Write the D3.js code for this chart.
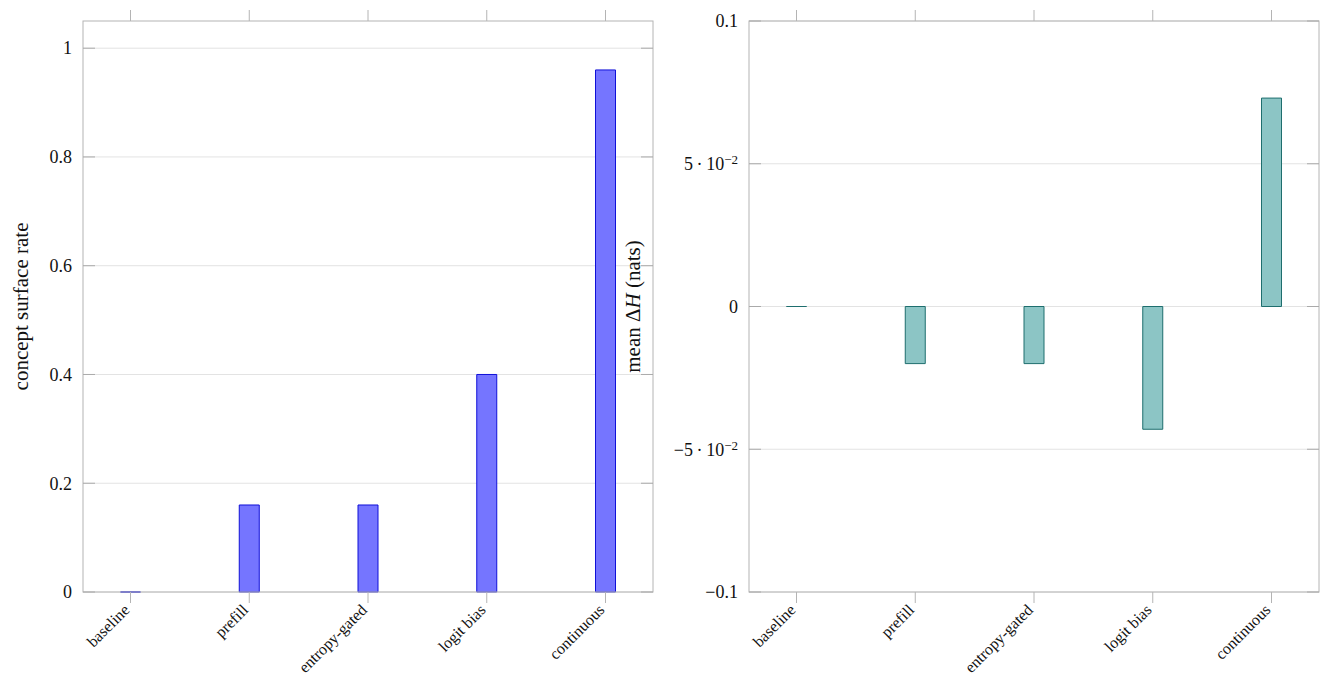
<!DOCTYPE html>
<html>
<head>
<meta charset="utf-8">
<script src="https://cdn.jsdelivr.net/npm/d3@7"></script>
<style>
  body { margin: 0; background: #fff; }
  text { font-family: "Liberation Serif", "DejaVu Serif", serif; fill: #111; }
</style>
</head>
<body>
<svg id="chart" width="1329" height="683"></svg>
<script>
// data
const methods = ["baseline", "prefill", "entropy-gated", "logit bias", "continuous"];
const surfaceRate = [0, 0.16, 0.16, 0.40, 0.96];
const meanDeltaH = [0, -0.02, -0.02, -0.043, 0.073];

const rateTicks = [0, 0.2, 0.4, 0.6, 0.8, 1];
const rateTickLabels = ["0", "0.2", "0.4", "0.6", "0.8", "1"];
const deltaTicks = [-0.1, -0.05, 0, 0.05, 0.1];
const deltaTickLabels = [["\u22120.1"], ["\u22125\u2009\u00b7\u200910", "\u22122"], ["0"], ["5\u2009\u00b7\u200910", "\u22122"], ["0.1"]];

const svg = d3.select("#chart");

function drawPanel(opts) {
    let left = opts.left, right = opts.right, top = 21, bottom = 592;

    let x = d3.scalePoint().domain(methods).range([left, right]).padding(0.4);
    let y = d3.scaleLinear().domain(opts.domain).range([bottom, top]);

    let g = svg.append("g");

    // grid
    g.selectAll(".grid").data(opts.ticks).join("line")
        .attr("x1", left).attr("x2", right)
        .attr("y1", d => y(d)).attr("y2", d => y(d))
        .attr("stroke", "#e3e3e3").attr("stroke-width", 1);

    // bars (paths so zero-height bars still show their outline)
    let bw = 20;
    g.selectAll(".bar").data(opts.values).join("path")
        .attr("d", (d, i) => {
            let x0 = x(methods[i]) - bw / 2;
            return "M" + x0 + "," + y(0) + "h" + bw + "V" + y(d) + "h" + (-bw) + "Z";
        })
        .attr("fill", opts.fill)
        .attr("stroke", opts.stroke)
        .attr("stroke-width", 1);

    // box
    g.append("rect")
        .attr("x", left).attr("y", top)
        .attr("width", right - left).attr("height", bottom - top)
        .attr("fill", "none").attr("stroke", "#b4b4b4").attr("stroke-width", 1);

    // y ticks (inside, both sides)
    opts.ticks.forEach(t => {
        g.append("line").attr("x1", left).attr("x2", left + 12)
            .attr("y1", y(t)).attr("y2", y(t)).attr("stroke", "#aaa");
        g.append("line").attr("x1", right - 12).attr("x2", right)
            .attr("y1", y(t)).attr("y2", y(t)).attr("stroke", "#aaa");
    });

    // x ticks (outside, top and bottom)
    methods.forEach(m => {
        g.append("line").attr("x1", x(m)).attr("x2", x(m))
            .attr("y1", top - 11).attr("y2", top).attr("stroke", "#b4b4b4");
        g.append("line").attr("x1", x(m)).attr("x2", x(m))
            .attr("y1", bottom).attr("y2", bottom + 11).attr("stroke", "#b4b4b4");
    });

    // x labels
    g.selectAll(".xl").data(methods).join("text")
        .attr("transform", d => "translate(" + (x(d) - 4) + "," + (bottom + 15) + ") rotate(-45)")
        .attr("text-anchor", "end")
        .attr("dy", "0.35em")
        .style("font-size", "16px")
        .text(d => d);

    // y labels
    opts.ticks.forEach((t, i) => {
        let lab = opts.labels[i];
        let txt = g.append("text")
            .attr("x", left - 11).attr("y", y(t))
            .attr("dy", "0.35em")
            .attr("text-anchor", "end")
            .style("font-size", "18px");
        if (Array.isArray(lab)) {
            txt.append("tspan").text(lab[0]);
            if (lab[1]) txt.append("tspan").attr("dy", "-0.45em").style("font-size", "13px").text(lab[1]);
        } else {
            txt.text(lab);
        }
    });

    // axis title
    let title = g.append("text")
        .attr("transform", "translate(" + opts.titleX + "," + (top + bottom) / 2 + ") rotate(-90)")
        .attr("text-anchor", "middle")
        .style("font-size", "21px");
    opts.title(title);
}

drawPanel({
    left: 83, right: 653,
    domain: [0, 1.05],
    values: surfaceRate,
    ticks: rateTicks, labels: rateTickLabels,
    fill: "#7575ff", stroke: "#1010d8",
    titleX: 28,
    title: t => t.text("concept surface rate")
});

drawPanel({
    left: 749, right: 1319,
    domain: [-0.1, 0.1],
    values: meanDeltaH,
    ticks: deltaTicks, labels: deltaTickLabels,
    fill: "#8cc5c5", stroke: "#1e6e6e",
    titleX: 640,
    title: t => {
        t.append("tspan").text("mean \u0394");
        t.append("tspan").style("font-style", "italic").text("H");
        t.append("tspan").text(" (nats)");
    }
});
</script>
</body>
</html>
